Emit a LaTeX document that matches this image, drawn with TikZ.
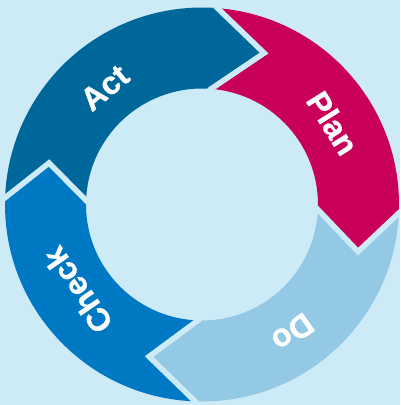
\documentclass[tikz,border=0pt]{standalone}
\usepackage{fontspec}
\setmainfont{Liberation Sans}
\newfontfamily\lblfont{Liberation Sans Bold}[FakeBold=0.8]
\definecolor{bgc}{RGB}{205,234,247}
\definecolor{actc}{RGB}{0,103,154}
\definecolor{planc}{RGB}{200,0,90}
\definecolor{doc}{RGB}{147,201,229}
\definecolor{checkc}{RGB}{0,121,197}
\begin{document}
\begin{tikzpicture}[x=1pt,y=1pt,
  gap/.style={draw=bgc, line width=5.5pt, line join=miter, line cap=rect},
  lbl/.style={text=white, font=\lblfont\fontsize{32}{32}\selectfont, inner sep=0pt, anchor=center}]
\clip (-202,-200.5) rectangle (198,204.5);
\fill[bgc] (-202,-200.5) rectangle (198,204.5);
% boundaries: base angle, tip
\coordinate (o1) at (85.5:197);  \coordinate (t1) at (67.7:163.7); \coordinate (i1) at (85.5:116);
\coordinate (o2) at (-2.5:197);  \coordinate (t2) at (-16.8:163);  \coordinate (i2) at (-2.5:116);
\coordinate (o3) at (-92:197);   \coordinate (t3) at (-109.2:161); \coordinate (i3) at (-92:116);
\coordinate (o4) at (-182:197);  \coordinate (t4) at (-195.2:158.5); \coordinate (i4) at (-182:116);
% Act
\fill[actc] (o4) arc[start angle=178, end angle=85.5, radius=197] -- (t1) -- (i1)
  arc[start angle=85.5, end angle=178, radius=116] -- (t4) -- cycle;
% Plan
\fill[planc] (o1) arc[start angle=85.5, end angle=-2.5, radius=197] -- (t2) -- (i2)
  arc[start angle=-2.5, end angle=85.5, radius=116] -- (t1) -- cycle;
% Do
\fill[doc] (o2) arc[start angle=-2.5, end angle=-92, radius=197] -- (t3) -- (i3)
  arc[start angle=-92, end angle=-2.5, radius=116] -- (t2) -- cycle;
% Check
\fill[checkc] (o3) arc[start angle=-92, end angle=-182, radius=197] -- (t4) -- (i4)
  arc[start angle=-182, end angle=-92, radius=116] -- (t3) -- cycle;
% gaps
\draw[gap] (o1) -- (t1) -- (i1);
\draw[gap] (o2) -- (t2) -- (i2);
\draw[gap] (o3) -- (t3) -- (i3);
\draw[gap] (o4) -- (t4) -- (i4);
% labels
\node[lbl, rotate=39.8] (act) at (129.8:152) {Act};
\node[lbl, rotate=-58] (plan) at (31.9:154) {Plan};
\node[lbl, rotate=-144.7] (do) at (-54.7:157) {Do};
\node[lbl, rotate=124.6] (check) at (214.6:151) {Check};
\end{tikzpicture}
\end{document}
